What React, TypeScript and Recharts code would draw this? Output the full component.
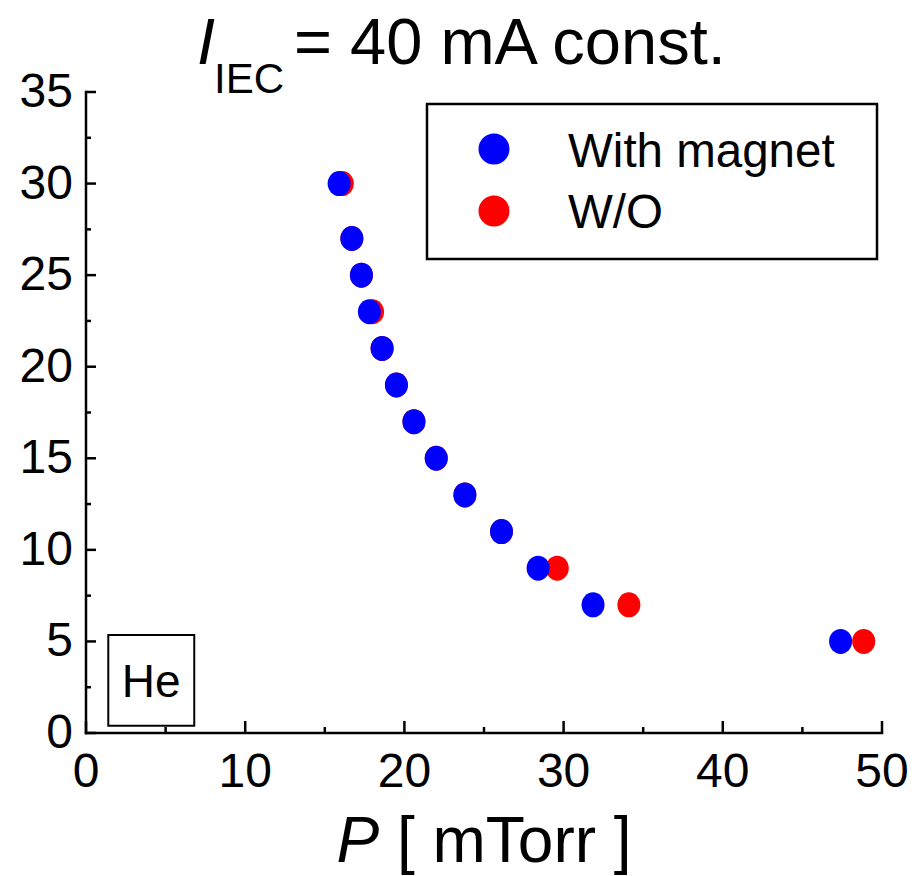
import { ScatterChart, Scatter, XAxis, YAxis, ReferenceArea } from 'recharts'

// Discharge voltage vs. pressure, He, I_IEC held at 40 mA
const yValues = [30, 27, 25, 23, 21, 19, 17, 15, 13, 11, 9, 7, 5]
const pressureWithMagnet = [15.9, 16.7, 17.3, 17.8, 18.6, 19.5, 20.6, 22.0, 23.8, 26.1, 28.4, 31.85, 47.4]
const pressureWithout = [16.1, 16.7, 17.3, 18.0, 18.6, 19.5, 20.6, 22.0, 23.8, 26.1, 29.6, 34.1, 48.85]

const xTicks = [0, 5, 10, 15, 20, 25, 30, 35, 40, 45, 50]
const xTickLabels = [0, 10, 20, 30, 40, 50]
const yTicks = [0, 2.5, 5, 7.5, 10, 12.5, 15, 17.5, 20, 22.5, 25, 27.5, 30, 32.5, 35]
const yTickLabels = [0, 5, 10, 15, 20, 25, 30, 35]

const series = [
  { name: 'With magnet', color: '#0000ff', x: pressureWithMagnet },
  { name: 'W/O', color: '#ff0000', x: pressureWithout },
]

const FONT = '"Liberation Sans", Arial, Helvetica, sans-serif'
const W = 919
const H = 876

const toPoints = (xs: number[]) => xs.map((x, i) => ({ x, y: yValues[i] }))

const Dot = (color: string) => (props: any) => {
  const { cx, cy } = props
  if (cx == null || cy == null) return null
  return <ellipse cx={cx} cy={cy} rx={11.5} ry={12.5} fill={color} />
}

const axisLine = { stroke: '#000', strokeWidth: 2.5, strokeLinecap: 'square' as const }

const BottomTick = ({ x, y, payload }: any) => {
  const major = xTickLabels.includes(payload.value)
  return (
    <g>
      <line x1={x} y1={y} x2={x} y2={y - (major ? 12 : 6)} stroke="#000" strokeWidth={2.5} />
      {major && (
        <text x={x} y={y + 54} textAnchor="middle" fontSize={48} fontFamily={FONT} fill="#000">
          {payload.value}
        </text>
      )}
    </g>
  )
}

const LeftTick = ({ x, y, payload }: any) => {
  const major = yTickLabels.includes(payload.value)
  return (
    <g>
      <line x1={x} y1={y} x2={x + (major ? 10 : 5)} y2={y} stroke="#000" strokeWidth={2.5} />
      {major && (
        <text x={x - 13} y={y + 15} textAnchor="end" fontSize={48} fontFamily={FONT} fill="#000">
          {payload.value}
        </text>
      )}
    </g>
  )
}

const TopTick = ({ x, y }: any) => (
  <line x1={x} y1={y} x2={x} y2={y + 7} stroke="#000" strokeWidth={2.5} />
)

const RightTick = ({ x, y }: any) => (
  <line x1={x} y1={y} x2={x - 6} y2={y} stroke="#000" strokeWidth={2.5} />
)

export default function App() {
  return (
    <div style={{ position: 'absolute', left: 0, top: 0, width: W, height: H, background: '#fff' }}>
      <ScatterChart width={W} height={H} margin={{ top: 92, right: 37, bottom: 0, left: 0 }}>
        <XAxis
          type="number"
          dataKey="x"
          domain={[0, 50]}
          ticks={xTicks}
          interval={0}
          height={143}
          tickSize={0}
          tickMargin={0}
          axisLine={axisLine}
          tickLine={false}
          tick={<BottomTick />}
        />
        <XAxis
          xAxisId="top"
          orientation="top"
          type="number"
          domain={[0, 50]}
          ticks={xTicks}
          interval={0}
          height={0}
          tickSize={0}
          tickMargin={0}
          axisLine={axisLine}
          tickLine={false}
          tick={<TopTick />}
        />
        <YAxis
          type="number"
          dataKey="y"
          domain={[0, 35]}
          ticks={yTicks}
          interval={0}
          width={86}
          tickSize={0}
          tickMargin={0}
          axisLine={axisLine}
          tickLine={false}
          tick={<LeftTick />}
        />
        <YAxis
          yAxisId="right"
          orientation="right"
          type="number"
          domain={[0, 35]}
          ticks={yTicks}
          interval={0}
          width={0}
          tickSize={0}
          tickMargin={0}
          axisLine={axisLine}
          tickLine={false}
          tick={<RightTick />}
        />
        <ReferenceArea
          x1={1.4}
          x2={6.8}
          y1={0.4}
          y2={5.35}
          fill="#fff"
          fillOpacity={1}
          stroke="#000"
          strokeWidth={2}
          label={{ value: 'He', position: 'center', fontSize: 46, fill: '#000', fontFamily: FONT }}
        />
        {/* W/O first so the magnet series sits on top where they overlap */}
        <Scatter
          name={series[1].name}
          data={toPoints(series[1].x)}
          shape={Dot(series[1].color)}
          isAnimationActive={false}
        />
        <Scatter
          name={series[0].name}
          data={toPoints(series[0].x)}
          shape={Dot(series[0].color)}
          isAnimationActive={false}
        />
      </ScatterChart>

      <svg
        width={W}
        height={H}
        style={{ position: 'absolute', left: 0, top: 0, pointerEvents: 'none' }}
        fontFamily={FONT}
      >
        <text x={197} y={64} fontSize={65} fill="#000">
          <tspan fontStyle="italic">I</tspan>
          <tspan x={214} y={93} fontSize={42}>IEC</tspan>
          <tspan x={294} y={64}>= 40 mA const.</tspan>
        </text>

        <text x={484} y={862} fontSize={64} textAnchor="middle" fill="#000">
          <tspan fontStyle="italic">P</tspan>
          <tspan> [ mTorr ]</tspan>
        </text>

        <rect x={427} y={104} width={450} height={155} fill="#fff" stroke="#000" strokeWidth={2.5} />
        {series.map((s, i) => (
          <g key={s.name}>
            <circle cx={494} cy={149 + i * 62} r={15.5} fill={s.color} />
            <text x={568} y={167 + i * 61} fontSize={47.5} fill="#000">
              {s.name}
            </text>
          </g>
        ))}
      </svg>
    </div>
  )
}
